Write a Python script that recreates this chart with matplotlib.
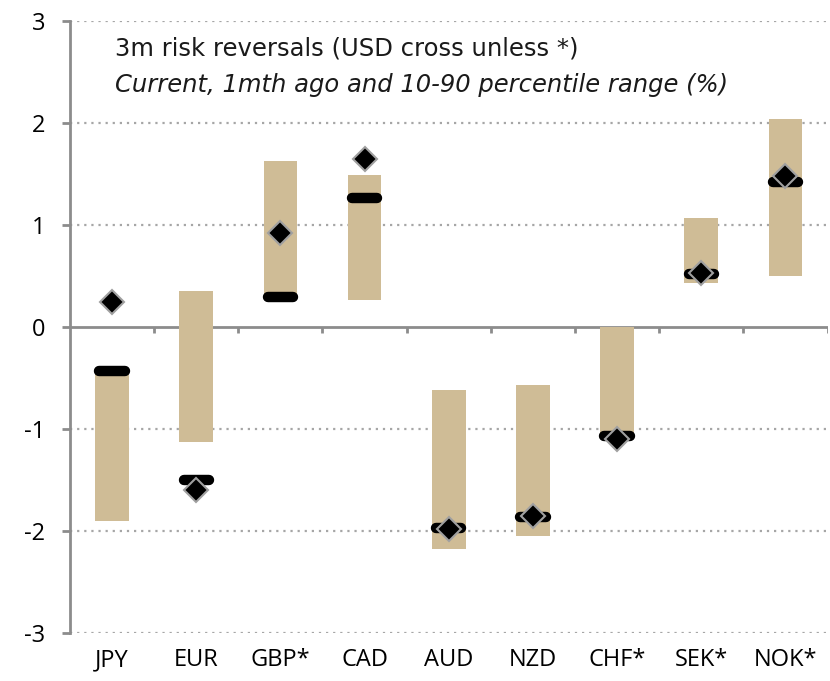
import numpy as np
import matplotlib.pyplot as plt

# 3m risk reversals
currencies = ['JPY', 'EUR', 'GBP*', 'CAD', 'AUD', 'NZD', 'CHF*', 'SEK*', 'NOK*']
pct10 = [-1.90, -1.13, 0.30, 0.27, -2.18, -2.05, -1.10, 0.43, 0.50]
pct90 = [-0.45, 0.35, 1.63, 1.49, -0.62, -0.57, 0.00, 1.07, 2.04]
month_ago = [-0.43, -1.50, 0.29, 1.27, -1.97, -1.86, -1.07, 0.52, 1.42]
current = [0.25, -1.60, 0.92, 1.65, -1.98, -1.85, -1.10, 0.53, 1.48]

plt.rcParams['font.family'] = ['Open Sans', 'DejaVu Sans']

fig = plt.figure(figsize=(8.3, 6.81), dpi=100)
ax = fig.add_axes([0.0843, 0.0705, 0.9127, 0.8985])

x = np.arange(len(currencies))
lo = np.array(pct10)
hi = np.array(pct90)

# percentile range bars
ax.bar(x, hi - lo, bottom=lo, width=0.4, color='#CFBC96', zorder=2)

# 1mth ago: rounded black dashes
dash = ax.hlines(month_ago, x - 0.15, x + 0.15, colors='black', linewidth=7.5, zorder=3)
dash.set_capstyle('round')

# current: black diamonds
ax.plot(x, current, linestyle='none', marker='D', markersize=12,
        markerfacecolor='black', markeredgecolor='#A0A0A0', markeredgewidth=1.5, zorder=4)

ax.set_xlim(-0.5, len(currencies) - 0.5)
ax.set_ylim(-3, 3)
ax.set_yticks(range(-3, 4))
ax.set_yticklabels([str(v) for v in range(-3, 4)])
ax.set_xticks(x)
ax.set_xticklabels(currencies)

for v in [-3, -2, -1, 1, 2, 3]:
    ax.axhline(v, color='#A6A6A6', linestyle=(0, (1, 2.2)), linewidth=1.6, zorder=1)

# zero line with category separators
ax.axhline(0, color='#8C8C8C', linewidth=2, zorder=1)
ax.vlines(np.arange(len(currencies)) + 0.5, -0.06, 0, colors='#8C8C8C', linewidth=2, zorder=1)

for s in ['top', 'right', 'bottom']:
    ax.spines[s].set_visible(False)
ax.spines['left'].set_color('#8C8C8C')
ax.spines['left'].set_linewidth(2)
ax.tick_params(axis='y', color='#8C8C8C', width=2, length=6, labelsize=17, pad=12)
ax.tick_params(axis='x', length=0, labelsize=17, pad=11)

ax.text(0.03, 2.73, '3m risk reversals (USD cross unless *)', fontsize=17.5, va='center', ha='left',
        color='#1a1a1a', family='DejaVu Sans')
ax.text(0.03, 2.37, 'Current, 1mth ago and 10-90 percentile range (%)', fontsize=17.5, va='center',
        ha='left', style='italic', color='#1a1a1a', family='DejaVu Sans')

fig.savefig('out.png', dpi=100)
